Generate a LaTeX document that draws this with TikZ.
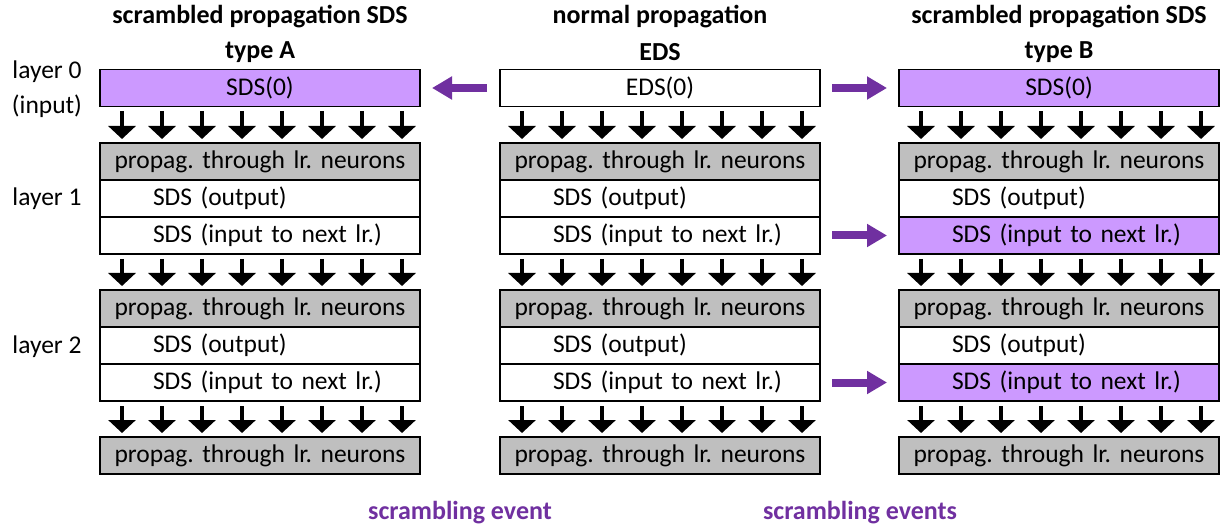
\documentclass[tikz,border=0pt]{standalone}
\usepackage{fontspec}
\setmainfont{Carlito}
\usetikzlibrary{arrows.meta,calc}
\definecolor{scramfill}{HTML}{CC99FF}
\definecolor{scramarrow}{HTML}{7030A0}
\definecolor{propgray}{HTML}{BFBFBF}
\frenchspacing
\tikzset{
  box/.style={draw, line width=1.6pt, minimum width=320pt, minimum height=37pt,
              inner xsep=10pt, inner ysep=0pt, outer sep=0pt, text width=300pt},
  centerbox/.style={box, align=center},
  leftbox/.style={box, align=left},
  propbox/.style={centerbox, fill=propgray},
  scrambox/.style={fill=scramfill},
  darr/.style={line width=4pt, -{Triangle[width=27pt,length=13pt]}},
  parr/.style={draw=scramarrow, line width=8pt, -{Triangle[width=22pt,length=20pt]}},
  heading/.style={font=\fontsize{26}{30}\selectfont\bfseries},
  eventlabel/.style={font=\fontsize{26}{30}\selectfont\bfseries, text=scramarrow},
}
\newcommand{\indenttext}{\hspace*{43pt}}
\begin{document}
\begin{tikzpicture}[x=1pt, y=-1pt, font=\fontsize{25.5}{29}\selectfont]
\useasboundingbox (0,0) rectangle (1220,529);

% column headings
\node[heading] (hA1) at (260,17) {scrambled propagation SDS};
\node[heading] (hA2) at (260,52) {type A};
\node[heading] (hN1) at (660,17) {normal propagation};
\node[heading] (hN2) at (660,52) {EDS};
\node[heading] (hB1) at (1059,17) {scrambled propagation SDS};
\node[heading] (hB2) at (1059,52) {type B};

% layer labels
\node (l0a) at (47,72) {layer 0};
\node (l0b) at (47,106) {(input)};
\node (l1) at (47,199) {layer 1};
\node (l2) at (47,347) {layer 2};

% the three columns: A (x=260), N (x=660), B (x=1059)
% column A
\node[centerbox, scrambox] (A0) at (260,88) {SDS(0)};
\node[propbox] (Ag1) at (260,161.5) {propag. through lr. neurons};
\node[leftbox] (Ao1) at (260,198.5) {\indenttext SDS (output)};
\node[leftbox] (Ai1) at (260,235.5) {\indenttext SDS (input to next lr.)};
\node[propbox] (Ag2) at (260,308.5) {propag. through lr. neurons};
\node[leftbox] (Ao2) at (260,345.5) {\indenttext SDS (output)};
\node[leftbox] (Ai2) at (260,382.5) {\indenttext SDS (input to next lr.)};
\node[propbox] (Ag3) at (260,455.5) {propag. through lr. neurons};

% column N
\node[centerbox] (N0) at (660,88) {EDS(0)};
\node[propbox] (Ng1) at (660,161.5) {propag. through lr. neurons};
\node[leftbox] (No1) at (660,198.5) {\indenttext SDS (output)};
\node[leftbox] (Ni1) at (660,235.5) {\indenttext SDS (input to next lr.)};
\node[propbox] (Ng2) at (660,308.5) {propag. through lr. neurons};
\node[leftbox] (No2) at (660,345.5) {\indenttext SDS (output)};
\node[leftbox] (Ni2) at (660,382.5) {\indenttext SDS (input to next lr.)};
\node[propbox] (Ng3) at (660,455.5) {propag. through lr. neurons};

% column B
\node[centerbox, scrambox] (B0) at (1059,88) {SDS(0)};
\node[propbox] (Bg1) at (1059,161.5) {propag. through lr. neurons};
\node[leftbox] (Bo1) at (1059,198.5) {\indenttext SDS (output)};
\node[leftbox, scrambox] (Bi1) at (1059,235.5) {\indenttext SDS (input to next lr.)};
\node[propbox] (Bg2) at (1059,308.5) {propag. through lr. neurons};
\node[leftbox] (Bo2) at (1059,345.5) {\indenttext SDS (output)};
\node[leftbox, scrambox] (Bi2) at (1059,382.5) {\indenttext SDS (input to next lr.)};
\node[propbox] (Bg3) at (1059,455.5) {propag. through lr. neurons};

% eight signal arrows between consecutive layers
\foreach \c in {A,N,B}{
  \foreach \from/\to in {0/g1, i1/g2, i2/g3}{
    \foreach \k in {0,...,7}{
      \draw[darr] ($(\c\from.south west)+(22+40*\k,5)$) -- ($(\c\to.north west)+(22+40*\k,-4)$);
    }
  }
}

% scrambling events
\draw[parr] ($(N0.west)+(-13,0)$) -- ($(A0.east)+(12,0)$);
\draw[parr] ($(N0.east)+(12,0)$) -- ($(B0.west)+(-12,0)$);
\draw[parr] ($(Ni1.east)+(12,0)$) -- ($(Bi1.west)+(-12,0)$);
\draw[parr] ($(Ni2.east)+(12,0)$) -- ($(Bi2.west)+(-12,0)$);

\node[eventlabel] (evA) at (460,513) {scrambling event};
\node[eventlabel] (evB) at (860,513) {scrambling events};
\end{tikzpicture}
\end{document}
